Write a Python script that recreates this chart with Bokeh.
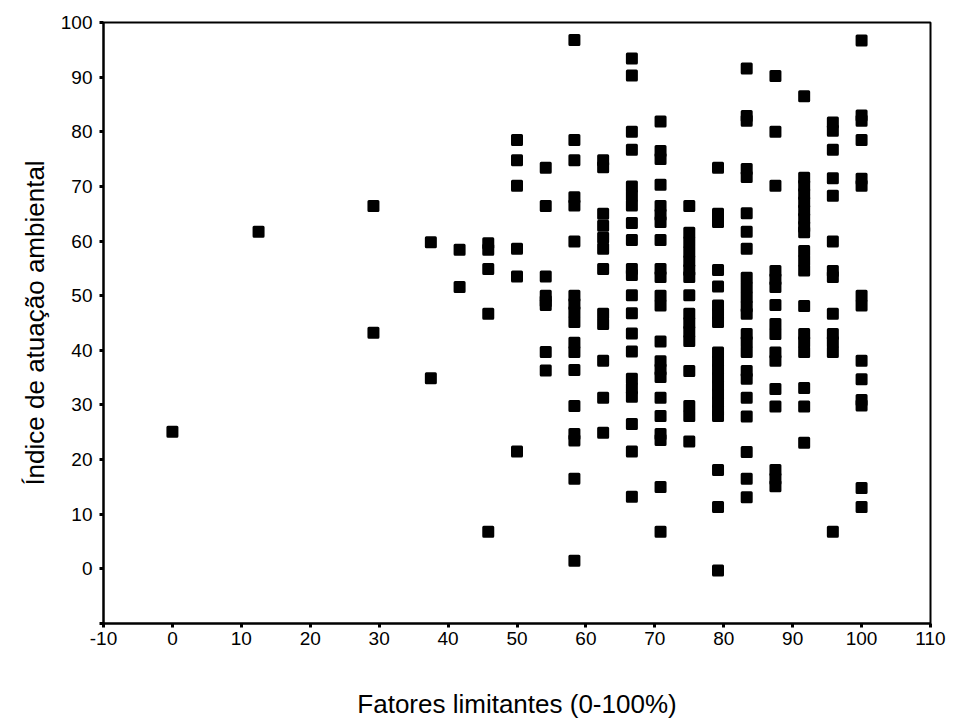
from bokeh.plotting import figure
from bokeh.models import Range1d, FixedTicker, ColumnDataSource
from bokeh.embed import file_html
from bokeh.resources import INLINE

# x positions of the point columns (Fatores limitantes, %)
x_cols = [0, 12.5, 29.17, 37.5, 41.67, 45.83, 50, 54.17, 58.33, 62.5,
          66.67, 70.83, 75, 79.17, 83.33, 87.5, 91.67, 95.83, 100]

# y values (Índice de atuação ambiental) per column
c000 = [25.1]
c125 = [61.7]
c292 = [66.4, 43.2]
c375 = [59.8, 34.9]
c417 = [58.4, 51.6]
c458 = [59.6, 58.4, 54.9, 46.7, 6.8]
c500 = [78.5, 74.8, 70.1, 58.6, 53.5, 21.5]
c542 = [73.4, 66.4, 53.5, 50.0, 49.0, 48.3, 39.7, 36.3]
c583 = [96.8, 78.5, 74.8, 68.0, 66.5, 59.9, 50.0, 48.5, 47.0, 45.2, 41.4,
        39.7, 36.4, 29.8, 24.7, 23.5, 16.5, 1.5]
c625 = [74.8, 73.5, 65.0, 62.8, 60.6, 58.6, 54.9, 46.7, 44.8, 38.1, 31.3, 24.9]
c667 = [93.4, 90.3, 80.0, 76.7, 70.0, 68.3, 66.5, 63.3, 60.2, 54.9, 53.8,
        50.1, 46.8, 43.1, 39.8, 34.8, 33.0, 31.5, 26.5, 21.5, 13.2]
c708 = [81.9, 76.5, 75.0, 70.3, 66.4, 64.8, 63.5, 60.2, 54.9, 53.4, 50.0,
        48.2, 41.6, 38.0, 36.5, 35.1, 31.3, 28.0, 24.7, 23.6, 15.0, 6.8]
c750 = [66.4, 61.5, 59.8, 58.0, 56.3, 54.7, 53.4, 50.1, 46.7, 45.0, 43.4,
        41.7, 36.2, 29.8, 28.0, 23.3]
c792 = [73.4, 65.0, 63.5, 54.7, 51.7, 48.2, 46.7, 45.2, 39.6, 38.0, 36.5,
        35.0, 33.5, 32.0, 30.5, 29.0, 28.0, 18.1, 11.3, -0.3]
c833 = [91.6, 82.9, 82.0, 73.2, 71.7, 65.1, 61.7, 58.6, 53.3, 51.5, 49.7,
        48.0, 46.7, 43.0, 41.5, 39.7, 36.2, 34.8, 31.3, 27.9, 21.4, 16.5, 13.1]
c875 = [90.2, 80.0, 70.1, 54.5, 53.0, 51.6, 48.3, 44.8, 43.0, 39.6, 38.1,
        32.9, 29.7, 18.1, 16.5, 15.1]
c917 = [86.5, 71.6, 70.1, 68.6, 67.1, 65.6, 64.1, 62.6, 61.6, 58.2, 56.4,
        54.6, 48.1, 43.0, 41.5, 39.7, 33.1, 29.7, 23.1]
c958 = [81.7, 80.2, 76.7, 71.5, 68.3, 59.9, 54.5, 53.4, 46.7, 43.0, 41.5,
        39.7, 6.8]
c1000 = [96.7, 83.0, 82.0, 78.5, 71.4, 70.1, 50.0, 48.2, 38.1, 34.7, 30.9,
         29.9, 14.8, 11.3]

y_cols = [c000, c125, c292, c375, c417, c458, c500, c542, c583, c625,
          c667, c708, c750, c792, c833, c875, c917, c958, c1000]

x_ticks = list(range(-10, 111, 10))
y_ticks = list(range(-10, 101, 10))

xs, ys = [], []
for xv, col in zip(x_cols, y_cols):
    for yv in col:
        xs.append(xv)
        ys.append(yv)
src = ColumnDataSource(dict(x=xs, y=ys))

FONT = "Liberation Sans"

p = figure(width=950, height=722, output_backend="svg", toolbar_location=None,
           x_range=Range1d(-10, 110), y_range=Range1d(-10, 100),
           min_border_left=103, min_border_right=20, min_border_top=22,
           min_border_bottom=99)
p.background_fill_color = "white"
p.border_fill_color = "white"
p.outline_line_color = "black"
p.outline_line_width = 2
p.xgrid.visible = False
p.ygrid.visible = False

p.scatter("x", "y", source=src, marker="square", size=9, line_width=3,
          line_join="round", fill_color="black", line_color="black")

for ax in (p.xaxis[0], p.yaxis[0]):
    ax.axis_line_color = "black"
    ax.axis_line_width = 2
    ax.major_tick_line_color = "black"
    ax.major_tick_line_width = 3
    ax.major_tick_in = 0
    ax.major_tick_out = 4
    ax.minor_tick_line_color = None
    ax.major_label_text_font = FONT
    ax.major_label_text_font_size = "19px"
    ax.major_label_text_color = "black"
    ax.axis_label_text_font = FONT
    ax.axis_label_text_font_style = "normal"
    ax.axis_label_text_color = "black"

p.xaxis.ticker = FixedTicker(ticks=x_ticks)
p.yaxis.ticker = FixedTicker(ticks=y_ticks)
p.xaxis.major_label_overrides = {-10: "-10"}
p.yaxis.major_label_overrides = {-10: ""}
p.xaxis.major_label_standoff = 4
p.yaxis.major_label_standoff = 7
p.xaxis.axis_label = "Fatores limitantes (0-100%)"
p.yaxis.axis_label = "Índice de atuação ambiental"
p.xaxis.axis_label_text_font_size = "26px"
p.yaxis.axis_label_text_font_size = "26px"
p.xaxis.axis_label_standoff = 41
p.yaxis.axis_label_standoff = 8

open("out.html", "w").write(file_html(p, INLINE))
